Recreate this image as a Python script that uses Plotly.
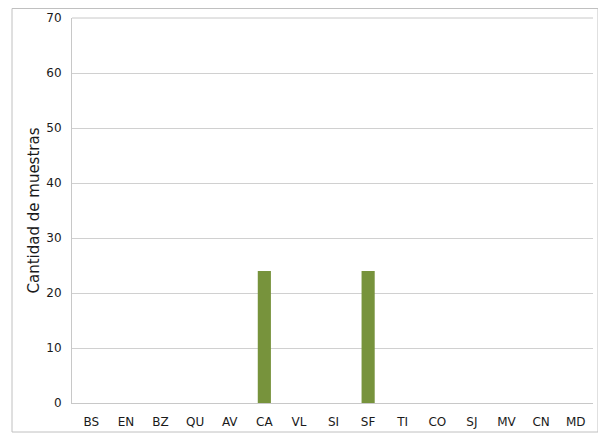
import plotly.graph_objects as go

categories = ["BS", "EN", "BZ", "QU", "AV", "CA", "VL", "SI", "SF", "TI", "CO", "SJ", "MV", "CN", "MD"]
values = [0, 0, 0, 0, 0, 24, 0, 0, 24, 0, 0, 0, 0, 0, 0]
y_ticks = [0, 10, 20, 30, 40, 50, 60, 70]

fig = go.Figure(go.Bar(x=categories, y=values, marker=dict(color="#77933C", line=dict(width=0)), width=0.38))

# page body has an 8px margin, so the figure is offset by (8, 8)
W, H = 598, 427
L, R, T, B = 64, 13, 10, 32
pw, ph = W - L - R, H - T - B

fig.update_layout(
    width=W, height=H,
    margin=dict(l=L, r=R, t=T, b=B, autoexpand=False),
    paper_bgcolor="white", plot_bgcolor="white",
    font=dict(family="DejaVu Sans", size=12, color="#222222"),
    showlegend=False,
    xaxis=dict(showgrid=False, showline=True, linecolor="#c8c8c8", mirror=False, automargin=False,
               range=[-0.56, 14.5],
               ticks="", tickfont=dict(size=12, color="#1a1a1a"), ticklabelstandoff=8),
    yaxis=dict(range=[0, 70], tickvals=y_ticks, showgrid=True, gridcolor="#d0d0d0", gridwidth=1,
               showline=True, linecolor="#c8c8c8", zeroline=False, automargin=False,
               ticks="", ticklabelstandoff=7, tickfont=dict(size=12, color="#1a1a1a"),
               title=dict(text="Cantidad de muestras", font=dict(size=15, color="#1a1a1a"), standoff=3)),
    shapes=[
        dict(type="rect", xref="paper", yref="paper",
             x0=(4 - L) / pw, x1=(590 - L) / pw, y0=(H - B - 424) / ph, y1=(H - B - 0.5) / ph,
             line=dict(color="#c0c0c0", width=1), layer="below"),
        dict(type="line", xref="paper", yref="paper", x0=0, x1=1, y0=1, y1=1,
             line=dict(color="#c8c8c8", width=1)),
    ],
)

fig.write_html("out.html")
